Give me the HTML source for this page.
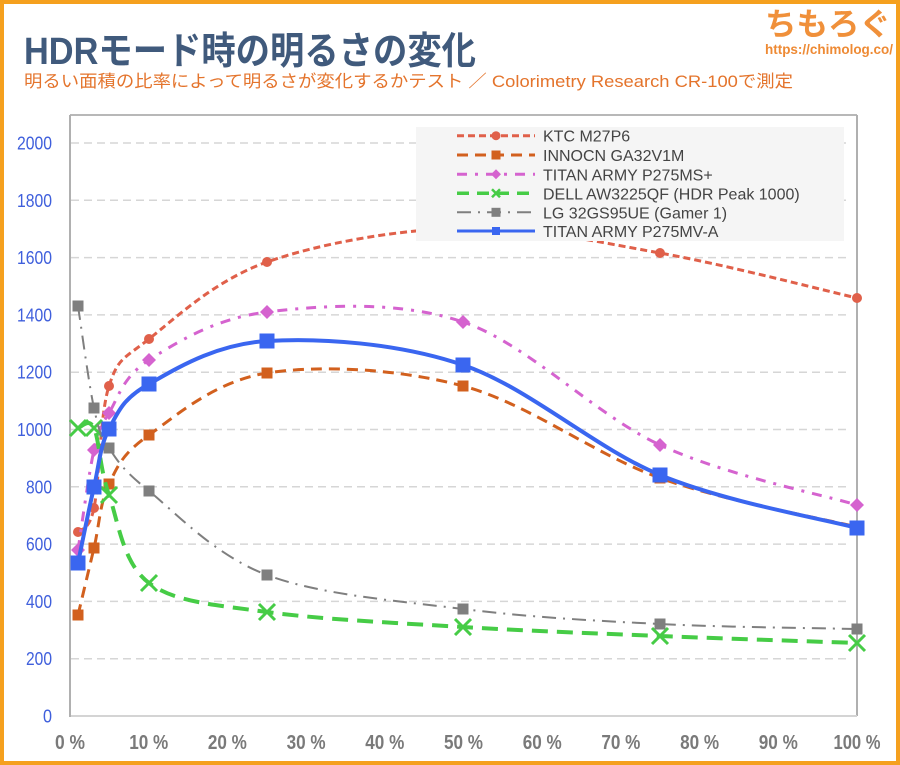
<!DOCTYPE html>
<html>
<head>
<meta charset="utf-8">
<style>
html,body{margin:0;padding:0;background:#fff;}
svg{display:block;}
</style>
</head>
<body>
<svg width="900" height="765" viewBox="0 0 900 765" xmlns="http://www.w3.org/2000/svg">
  <!-- background + orange frame -->
  <rect x="0" y="0" width="900" height="765" fill="#ffffff"/>
  <rect x="2" y="2" width="896" height="761" fill="none" stroke="#f5a01e" stroke-width="4"/>

  <!-- Title -->
  <text x="24" y="64" font-family="'Liberation Sans','Noto Sans CJK JP',sans-serif" font-weight="bold" font-size="38" fill="#405a7c" textLength="452" lengthAdjust="spacingAndGlyphs">HDRモード時の明るさの変化</text>
  <text x="24" y="87" font-family="'Liberation Sans','Noto Sans CJK JP',sans-serif" font-size="17" fill="#e4742c" textLength="769" lengthAdjust="spacingAndGlyphs">明るい面積の比率によって明るさが変化するかテスト ／ Colorimetry Research CR-100で測定</text>

  <!-- Logo -->
  <text x="765" y="35" font-family="'Liberation Sans','Noto Sans CJK JP',sans-serif" font-weight="bold" font-size="31" fill="#f0903a" textLength="126" lengthAdjust="spacingAndGlyphs">ちもろぐ</text>
  <text x="765" y="54" font-family="'Liberation Sans',sans-serif" font-weight="bold" font-size="14" fill="#ee8a34" textLength="128" lengthAdjust="spacingAndGlyphs">https://chimolog.co/</text>

  <!-- gridlines -->
  <g stroke="#d6d6d6" stroke-width="1.5" stroke-dasharray="8,5" fill="none">
    <line x1="71" y1="658.7" x2="851" y2="658.7"/>
    <line x1="71" y1="601.4" x2="851" y2="601.4"/>
    <line x1="71" y1="544.1" x2="851" y2="544.1"/>
    <line x1="71" y1="486.8" x2="851" y2="486.8"/>
    <line x1="71" y1="429.5" x2="851" y2="429.5"/>
    <line x1="71" y1="372.2" x2="851" y2="372.2"/>
    <line x1="71" y1="314.9" x2="851" y2="314.9"/>
    <line x1="71" y1="257.6" x2="851" y2="257.6"/>
    <line x1="71" y1="200.3" x2="851" y2="200.3"/>
    <line x1="71" y1="143" x2="851" y2="143"/>
  </g>

  <!-- plot frame -->
  <line x1="70" y1="115" x2="857" y2="115" stroke="#b8b8b8" stroke-width="2"/>
  <line x1="857" y1="115" x2="857" y2="716" stroke="#b0b0b0" stroke-width="2"/>
  <line x1="70" y1="716" x2="857" y2="716" stroke="#d4d4d4" stroke-width="2"/>
  <line x1="70" y1="115" x2="70" y2="717" stroke="#b0b0b0" stroke-width="2"/>

  <!-- Y labels -->
  <g font-family="'Liberation Sans',sans-serif" font-size="18" fill="#3f5fdc" text-anchor="end" lengthAdjust="spacingAndGlyphs">
    <text x="52" y="722.5" textLength="9" lengthAdjust="spacingAndGlyphs">0</text>
    <text x="52" y="665.2" textLength="26" lengthAdjust="spacingAndGlyphs">200</text>
    <text x="52" y="607.9" textLength="26" lengthAdjust="spacingAndGlyphs">400</text>
    <text x="52" y="550.6" textLength="26" lengthAdjust="spacingAndGlyphs">600</text>
    <text x="52" y="493.3" textLength="26" lengthAdjust="spacingAndGlyphs">800</text>
    <text x="52" y="436" textLength="35" lengthAdjust="spacingAndGlyphs">1000</text>
    <text x="52" y="378.7" textLength="35" lengthAdjust="spacingAndGlyphs">1200</text>
    <text x="52" y="321.4" textLength="35" lengthAdjust="spacingAndGlyphs">1400</text>
    <text x="52" y="264.1" textLength="35" lengthAdjust="spacingAndGlyphs">1600</text>
    <text x="52" y="206.8" textLength="35" lengthAdjust="spacingAndGlyphs">1800</text>
    <text x="52" y="149.5" textLength="35" lengthAdjust="spacingAndGlyphs">2000</text>
  </g>

  <!-- X labels -->
  <g font-family="'Liberation Sans',sans-serif" font-size="20" font-weight="bold" fill="#7a7a7a" text-anchor="middle">
    <text x="70" y="749" textLength="30" lengthAdjust="spacingAndGlyphs">0 %</text>
    <text x="148.7" y="749" textLength="39" lengthAdjust="spacingAndGlyphs">10 %</text>
    <text x="227.4" y="749" textLength="39" lengthAdjust="spacingAndGlyphs">20 %</text>
    <text x="306.1" y="749" textLength="39" lengthAdjust="spacingAndGlyphs">30 %</text>
    <text x="384.8" y="749" textLength="39" lengthAdjust="spacingAndGlyphs">40 %</text>
    <text x="463.5" y="749" textLength="39" lengthAdjust="spacingAndGlyphs">50 %</text>
    <text x="542.2" y="749" textLength="39" lengthAdjust="spacingAndGlyphs">60 %</text>
    <text x="620.9" y="749" textLength="39" lengthAdjust="spacingAndGlyphs">70 %</text>
    <text x="699.6" y="749" textLength="39" lengthAdjust="spacingAndGlyphs">80 %</text>
    <text x="778.3" y="749" textLength="39" lengthAdjust="spacingAndGlyphs">90 %</text>
    <text x="857" y="749" textLength="47" lengthAdjust="spacingAndGlyphs">100 %</text>
  </g>

  <!-- KTC M27P6 -->
  <path d="M78,532 C80.7,528 88.8,532.3 94,508 C99.2,483.7 99.8,414.2 109,386 C118.2,357.8 122.7,359.7 149,339 C175.3,318.3 214.7,280.5 267,262 C319.3,243.5 397.5,229.5 463,228 C528.5,226.5 594.3,241.3 660,253 C725.7,264.7 824.2,290.5 857,298" fill="none" stroke="#e0604a" stroke-width="3" stroke-dasharray="7,4"/>
  <g fill="#e0604a">
    <circle cx="78" cy="532" r="5"/><circle cx="94" cy="508" r="5"/><circle cx="109" cy="386" r="5"/><circle cx="149" cy="339" r="5"/>
    <circle cx="267" cy="262" r="5"/><circle cx="463" cy="228" r="5"/><circle cx="660" cy="253" r="5"/><circle cx="857" cy="298" r="5"/>
  </g>

  <!-- INNOCN GA32V1M -->
  <path d="M78,615 C80.7,603.8 88.8,569.8 94,548 C99.2,526.2 99.8,502.8 109,484 C118.2,465.2 122.7,453.5 149,435 C175.3,416.5 214.7,381.2 267,373 C319.3,364.8 397.5,368.5 463,386 C528.5,403.5 594.3,454.5 660,478 C725.7,501.5 824.2,518.8 857,527" fill="none" stroke="#d2601e" stroke-width="3" stroke-dasharray="11,7"/>
  <g fill="#d2601e">
    <rect x="72.5" y="609.5" width="11" height="11"/><rect x="88.5" y="542.5" width="11" height="11"/><rect x="103.5" y="478.5" width="11" height="11"/><rect x="143.5" y="429.5" width="11" height="11"/>
    <rect x="261.5" y="367.5" width="11" height="11"/><rect x="457.5" y="380.5" width="11" height="11"/><rect x="654.5" y="472.5" width="11" height="11"/><rect x="851.5" y="521.5" width="11" height="11"/>
  </g>

  <!-- TITAN ARMY P275MS+ -->
  <path d="M78,550 C80.7,533.3 88.8,472.8 94,450 C99.2,427.2 99.8,428 109,413 C118.2,398 122.7,376.8 149,360 C175.3,343.2 214.7,318.3 267,312 C319.3,305.7 397.5,299.8 463,322 C528.5,344.2 594.3,414.5 660,445 C725.7,475.5 824.2,495 857,505" fill="none" stroke="#d563cf" stroke-width="3" stroke-dasharray="10,8,3,8"/>
  <g fill="#d563cf">
    <polygon points="78,543 85,550 78,557 71,550"/><polygon points="94,443 101,450 94,457 87,450"/><polygon points="109,406 116,413 109,420 102,413"/><polygon points="149,353 156,360 149,367 142,360"/>
    <polygon points="267,305 274,312 267,319 260,312"/><polygon points="463,315 470,322 463,329 456,322"/><polygon points="660,438 667,445 660,452 653,445"/><polygon points="857,498 864,505 857,512 850,505"/>
  </g>

  <!-- DELL AW3225QF -->
  <path d="M78,428 C80.7,428 88.8,416.8 94,428 C99.2,439.2 99.8,469.2 109,495 C118.2,520.8 122.7,563.5 149,583 C175.3,602.5 214.7,604.7 267,612 C319.3,619.3 397.5,623 463,627 C528.5,631 594.3,633.3 660,636 C725.7,638.7 824.2,641.8 857,643" fill="none" stroke="#46cc46" stroke-width="4" stroke-dasharray="16,9"/>
  <g stroke="#46cc46" stroke-width="3" fill="none">
    <path d="M70,420 L86,436 M86,420 L70,436"/><path d="M86,420 L102,436 M102,420 L86,436"/><path d="M101,487 L117,503 M117,487 L101,503"/><path d="M141,575 L157,591 M157,575 L141,591"/>
    <path d="M259,604 L275,620 M275,604 L259,620"/><path d="M455,619 L471,635 M471,619 L455,635"/><path d="M652,628 L668,644 M668,628 L652,644"/><path d="M849,635 L865,651 M865,635 L849,651"/>
  </g>

  <!-- LG 32GS95UE -->
  <path d="M78,306 C80.7,323 88.8,384.3 94,408 C99.2,431.7 99.8,434.2 109,448 C118.2,461.8 122.7,469.8 149,491 C175.3,512.2 214.7,555.3 267,575 C319.3,594.7 397.5,600.8 463,609 C528.5,617.2 594.3,620.7 660,624 C725.7,627.3 824.2,628.2 857,629" fill="none" stroke="#7f7f7f" stroke-width="2" stroke-dasharray="14,7,2,7"/>
  <g fill="#7f7f7f">
    <rect x="72.5" y="300.5" width="11" height="11"/><rect x="88.5" y="402.5" width="11" height="11"/><rect x="103.5" y="442.5" width="11" height="11"/><rect x="143.5" y="485.5" width="11" height="11"/>
    <rect x="261.5" y="569.5" width="11" height="11"/><rect x="457.5" y="603.5" width="11" height="11"/><rect x="654.5" y="618.5" width="11" height="11"/><rect x="851.5" y="623.5" width="11" height="11"/>
  </g>

  <!-- TITAN ARMY P275MV-A -->
  <path d="M78,563 C80.7,550.3 88.8,509.3 94,487 C99.2,464.7 99.8,446.2 109,429 C118.2,411.8 122.7,398.7 149,384 C175.3,369.3 214.7,344.2 267,341 C319.3,337.8 397.5,342.7 463,365 C528.5,387.3 594.3,447.8 660,475 C725.7,502.2 824.2,519.2 857,528" fill="none" stroke="#3a66f0" stroke-width="4"/>
  <g fill="#3a66f0">
    <rect x="70.5" y="555.5" width="15" height="15"/><rect x="86.5" y="479.5" width="15" height="15"/><rect x="101.5" y="421.5" width="15" height="15"/><rect x="141.5" y="376.5" width="15" height="15"/>
    <rect x="259.5" y="333.5" width="15" height="15"/><rect x="455.5" y="357.5" width="15" height="15"/><rect x="652.5" y="467.5" width="15" height="15"/><rect x="849.5" y="520.5" width="15" height="15"/>
  </g>

  <!-- Legend -->
  <rect x="416" y="127" width="428" height="114" fill="#f5f5f5"/>
  <g font-family="'Liberation Sans',sans-serif" font-size="16" fill="#444444">
    <text x="543" y="141.5">KTC M27P6</text>
    <text x="543" y="161">INNOCN GA32V1M</text>
    <text x="543" y="180.3">TITAN ARMY P275MS+</text>
    <text x="543" y="199.3">DELL AW3225QF (HDR Peak 1000)</text>
    <text x="543" y="218.3">LG 32GS95UE (Gamer 1)</text>
    <text x="543" y="237">TITAN ARMY P275MV-A</text>
  </g>
  <line x1="457" y1="135.7" x2="535" y2="135.7" stroke="#e0604a" stroke-width="3" stroke-dasharray="7,4"/>
  <circle cx="496" cy="135.7" r="4.5" fill="#e0604a"/>
  <line x1="457" y1="155" x2="535" y2="155" stroke="#d2601e" stroke-width="3" stroke-dasharray="11,7"/>
  <rect x="491.5" y="150.5" width="9" height="9" fill="#d2601e"/>
  <line x1="457" y1="174.3" x2="535" y2="174.3" stroke="#d563cf" stroke-width="3" stroke-dasharray="10,8,3,8"/>
  <polygon points="496,169.3 501,174.3 496,179.3 491,174.3" fill="#d563cf"/>
  <line x1="457" y1="193.3" x2="535" y2="193.3" stroke="#46cc46" stroke-width="3.5" stroke-dasharray="12,8"/>
  <path d="M492,189.3 L500,197.3 M500,189.3 L492,197.3" stroke="#46cc46" stroke-width="2.5"/>
  <line x1="457" y1="212.3" x2="535" y2="212.3" stroke="#7f7f7f" stroke-width="2" stroke-dasharray="14,7,2,7"/>
  <rect x="491.5" y="207.8" width="9" height="9" fill="#7f7f7f"/>
  <line x1="457" y1="231" x2="535" y2="231" stroke="#3a66f0" stroke-width="3"/>
  <rect x="492" y="227" width="8" height="8" fill="#3a66f0"/>
</svg>
</body>
</html>
